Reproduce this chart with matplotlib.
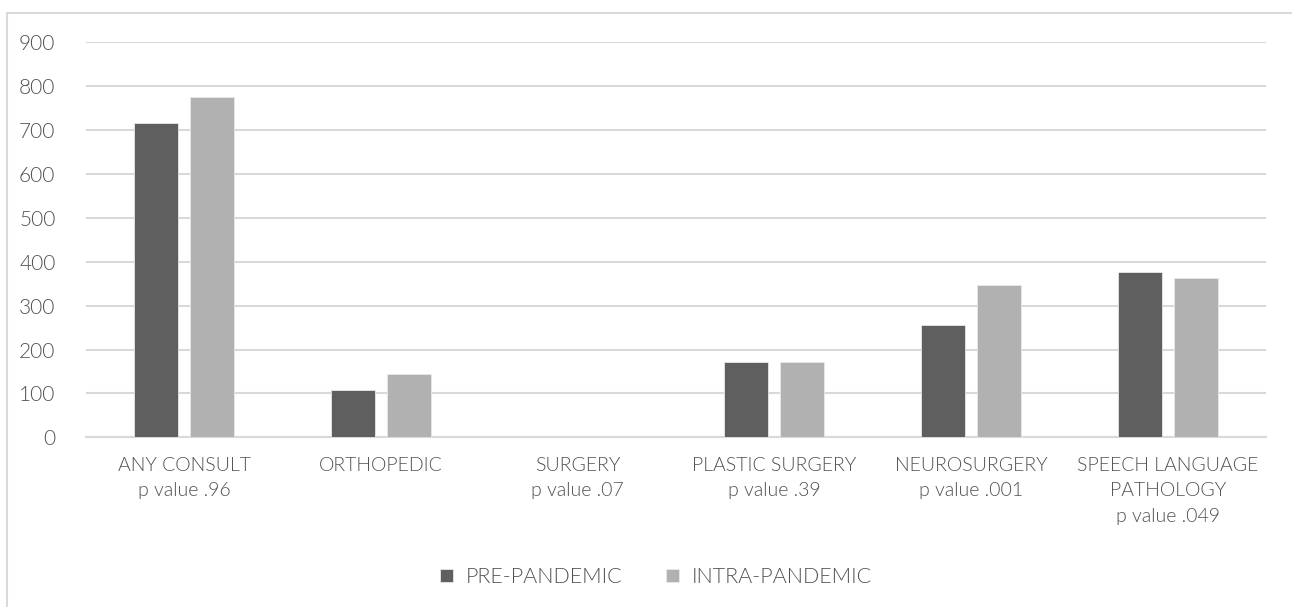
import matplotlib
matplotlib.use("Agg")
import matplotlib.pyplot as plt
import numpy as np
from matplotlib.lines import Line2D

categories = [
    "ANY CONSULT\np value .96",
    "ORTHOPEDIC",
    "SURGERY\np value .07",
    "PLASTIC SURGERY\np value .39",
    "NEUROSURGERY\np value .001",
    "SPEECH LANGUAGE\nPATHOLOGY\np value .049",
]
pre_pandemic = [715, 108, 0, 172, 257, 376]
intra_pandemic = [776, 144, 0, 171, 348, 363]
series_names = ["PRE-PANDEMIC", "INTRA-PANDEMIC"]
y_ticks = list(range(0, 1000, 100))

plt.rcParams["font.family"] = ["Lato", "DejaVu Sans"]
plt.rcParams["font.weight"] = 300
text_color = "#505050"
grid_color = "#d9d9d9"
dark = "#5f5f5f"
light = "#b1b1b1"

W, H = 1292, 607
fig = plt.figure(figsize=(W / 100, H / 100), dpi=100)
ax = fig.add_axes([86 / W, 1 - 437.3 / H, (1266 - 86) / W, (437.3 - 42.3) / H])

x = np.arange(len(categories))
width = 0.223
offset = 0.142
ax.bar(x - offset, pre_pandemic, width, color=dark, edgecolor="#e8e8e8",
       linewidth=0.6, label=series_names[0], zorder=3)
ax.bar(x + offset, intra_pandemic, width, color=light, edgecolor="#e8e8e8",
       linewidth=0.6, label=series_names[1], zorder=3)

ax.set_xlim(-0.5, len(categories) - 0.5)
ax.set_ylim(0, 900)
ax.set_yticks(y_ticks)
ax.set_yticklabels([str(v) for v in y_ticks])
ax.set_xticks(x)
ax.set_xticklabels(categories, linespacing=1.62)
ax.tick_params(axis="both", length=0, colors=text_color, labelsize=14)
ax.tick_params(axis="y", labelsize=15, pad=22)
ax.tick_params(axis="x", pad=14)

ax.grid(axis="y", color=grid_color, linewidth=1.5, zorder=0)
for side in ["top", "right", "left"]:
    ax.spines[side].set_visible(False)
ax.spines["bottom"].set_color(grid_color)
ax.spines["bottom"].set_linewidth(1.5)

# Outer chart frame (top and left edges)
fig.add_artist(Line2D([7 / W, 1.0], [1 - 13 / H, 1 - 13 / H], color="#d9d9d9",
                      linewidth=1.5, transform=fig.transFigure))
fig.add_artist(Line2D([7 / W, 7 / W], [0.0, 1 - 13 / H], color="#d9d9d9",
                      linewidth=1.5, transform=fig.transFigure))

leg = fig.legend(loc="center", bbox_to_anchor=(656 / W, 1 - 577 / H), ncol=2,
                 frameon=False, fontsize=15.5, handlelength=0.6, handleheight=0.6,
                 handletextpad=0.6, columnspacing=2.0)
for t in leg.get_texts():
    t.set_color(text_color)

fig.savefig("out.png", dpi=100, facecolor="white")
